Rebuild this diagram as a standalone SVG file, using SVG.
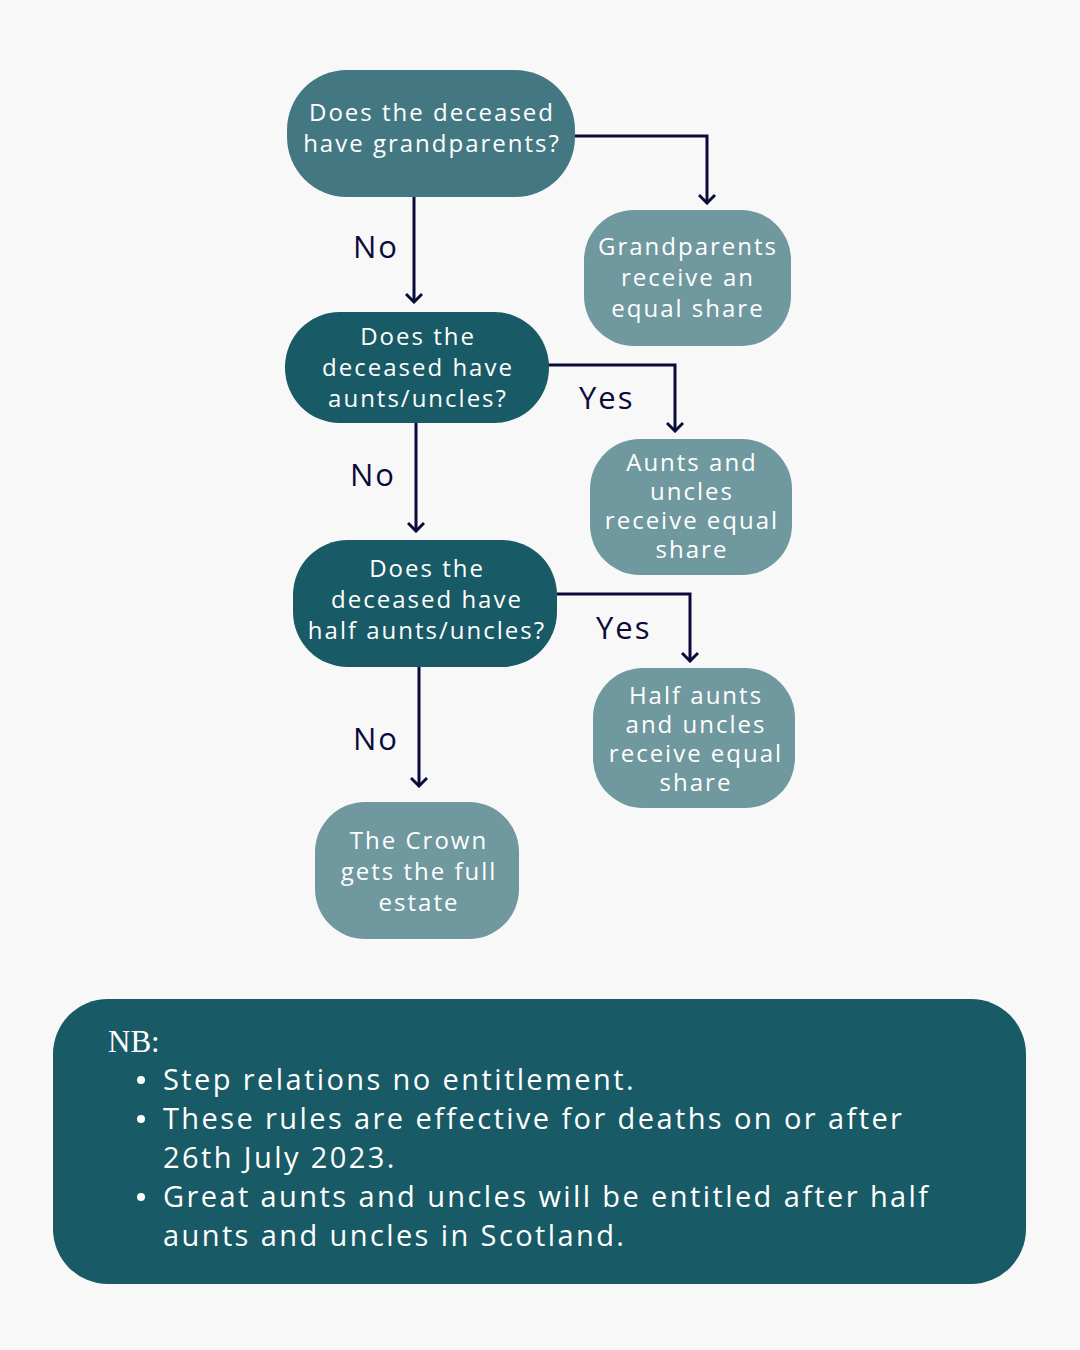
<svg xmlns="http://www.w3.org/2000/svg" width="1080" height="1350" viewBox="0 0 1080 1350">
<defs>
<style>
.t{font-family:"Open Sans","Liberation Sans",sans-serif;font-size:24px;fill:#ffffff;text-anchor:middle;letter-spacing:2px}
.lbl{font-family:"Open Sans","Liberation Sans",sans-serif;font-size:31px;fill:#0b0b3b;letter-spacing:2px}
.nb{font-family:"Open Sans","Liberation Sans",sans-serif;font-size:29px;fill:#ffffff;letter-spacing:2.4px}
.c{fill:none;stroke:#0b0b3b;stroke-width:3;marker-end:url(#ah)}
</style>
<marker id="ah" viewBox="0 0 12 18" refX="10" refY="9" markerWidth="12" markerHeight="18" markerUnits="userSpaceOnUse" orient="auto">
<path d="M2,1 L10,9 L2,17" fill="none" stroke="#0b0b3b" stroke-width="3"/>
</marker>
</defs>
<rect width="1080" height="1350" fill="#f8f8f8"/>
<g id="connectors">
<path class="c" d="M575,136 H707 V203"/>
<path class="c" d="M414,197 V302"/>
<path class="c" d="M542,365 H675 V431"/>
<path class="c" d="M416,423 V531"/>
<path class="c" d="M557,594 H690 V661"/>
<path class="c" d="M419,667 V786"/>
<text class="lbl" x="353" y="258">No</text>
<text class="lbl" x="579" y="409">Yes</text>
<text class="lbl" x="350" y="486">No</text>
<text class="lbl" x="596" y="639">Yes</text>
<text class="lbl" x="353" y="750">No</text>
</g>
<g id="n1">
<rect x="287" y="70" width="288" height="127" rx="60" fill="#437882"/>
<text class="t" x="432" y="121">Does the deceased</text>
<text class="t" x="432" y="152">have grandparents?</text>
</g>
<g id="n_grand">
<rect x="584" y="210" width="207" height="136" rx="50" fill="#6f999e"/>
<text class="t" x="688" y="255">Grandparents</text>
<text class="t" x="688" y="286">receive an</text>
<text class="t" x="688" y="317">equal share</text>
</g>
<g id="n2">
<rect x="285" y="312" width="264" height="111" rx="55" fill="#185a65"/>
<text class="t" x="418" y="345">Does the</text>
<text class="t" x="418" y="376">deceased have</text>
<text class="t" x="418" y="407">aunts/uncles?</text>
</g>
<g id="n_aunts">
<rect x="590" y="439" width="202" height="136" rx="50" fill="#6f999e"/>
<text class="t" x="692" y="471">Aunts and</text>
<text class="t" x="692" y="500">uncles</text>
<text class="t" x="692" y="529">receive equal</text>
<text class="t" x="692" y="558">share</text>
</g>
<g id="n3">
<rect x="293" y="540" width="264" height="127" rx="55" fill="#185a65"/>
<text class="t" x="427" y="577">Does the</text>
<text class="t" x="427" y="608">deceased have</text>
<text class="t" x="427" y="639">half aunts/uncles?</text>
</g>
<g id="n_half">
<rect x="593" y="668" width="202" height="140" rx="50" fill="#6f999e"/>
<text class="t" x="696" y="704">Half aunts</text>
<text class="t" x="696" y="733">and uncles</text>
<text class="t" x="696" y="762">receive equal</text>
<text class="t" x="696" y="791">share</text>
</g>
<g id="n_crown">
<rect x="315" y="802" width="204" height="137" rx="50" fill="#6f999e"/>
<text class="t" x="419" y="849">The Crown</text>
<text class="t" x="419" y="880">gets the full</text>
<text class="t" x="419" y="911">estate</text>
</g>
<g id="nb_box">
<rect x="53" y="999" width="973" height="285" rx="55" fill="#185a65"/>
<text x="108" y="1052" font-family="'Liberation Serif',serif" font-size="31" fill="#ffffff">NB:</text>
<circle cx="141" cy="1080" r="4" fill="#ffffff"/>
<circle cx="141" cy="1119" r="4" fill="#ffffff"/>
<circle cx="141" cy="1197" r="4" fill="#ffffff"/>
<text class="nb" x="163" y="1090">Step relations no entitlement.</text>
<text class="nb" x="163" y="1129">These rules are effective for deaths on or after</text>
<text class="nb" x="163" y="1168">26th July 2023.</text>
<text class="nb" x="163" y="1207">Great aunts and uncles will be entitled after half</text>
<text class="nb" x="163" y="1246">aunts and uncles in Scotland.</text>
</g>
</svg>
